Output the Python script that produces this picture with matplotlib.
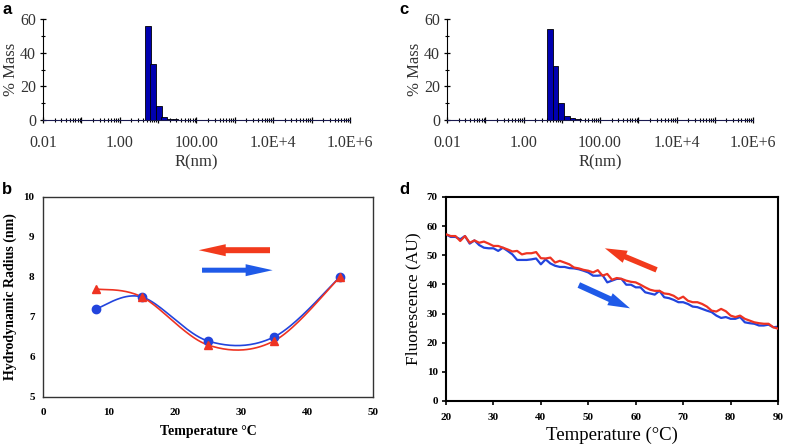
import numpy as np
import matplotlib
matplotlib.use("Agg")
import matplotlib.pyplot as plt
from matplotlib.patches import FancyArrowPatch
from matplotlib.ticker import FixedLocator, NullFormatter

SERIF = "Liberation Serif"

# panel a / c : size distribution (% mass vs radius)
radius_a = [5.37, 7.5, 10.5, 14.6, 20.4, 28.5]
mass_a = [56, 33, 8.5, 1.5, 0.8, 0.5]
radius_c = [4.93, 6.9, 9.7, 13.6, 19.0, 26.6]
mass_c = [54, 32, 10.3, 2.4, 1.0, 0.5]
r_tick_labels = ["0.01", "", "1.00", "", "100.00", "", "1.0E+4", "", "1.0E+6"]

# panel b : hydrodynamic radius vs temperature
temp_b = [8, 15, 25, 35, 45]
rh_heat = [7.2, 7.5, 6.4, 6.5, 8.0]
rh_cool = [7.7, 7.5, 6.3, 6.4, 8.0]

# panel d : fluorescence vs temperature
temp_d = list(range(20, 91))
fl_heat = [57.2, 56.3, 56.3, 55.5, 56.6, 54.0, 55.1, 53.5, 52.6, 52.4,
           52.4, 51.5, 52.6, 51.5, 50.3, 48.4, 48.4, 48.4, 48.6, 48.9,
           46.9, 48.6, 47.2, 46.4, 46.0, 46.0, 45.6, 45.5, 45.2, 44.7,
           44.1, 43.0, 43.0, 43.2, 40.7, 41.3, 41.9, 41.9, 39.9, 39.9,
           39.0, 39.0, 37.3, 36.9, 36.5, 37.8, 35.6, 35.3, 34.7, 33.9,
           33.9, 33.3, 32.4, 32.2, 31.6, 31.0, 30.5, 29.3, 28.5, 28.8,
           28.2, 28.2, 28.8, 27.0, 26.7, 26.5, 25.9, 25.9, 26.2, 25.3,
           25.5]
fl_cool = [57.2, 56.6, 56.6, 54.9, 56.6, 54.3, 55.1, 54.3, 54.7, 54.0,
           53.2, 53.2, 52.6, 52.0, 51.3, 51.5, 50.3, 50.7, 50.7, 51.1,
           49.0, 48.9, 49.2, 47.5, 48.1, 47.5, 46.9, 45.8, 45.5, 45.0,
           44.7, 44.1, 44.9, 43.0, 43.6, 41.6, 42.2, 41.9, 41.3, 40.9,
           40.7, 39.9, 39.0, 38.2, 37.8, 37.8, 36.9, 36.7, 36.1, 35.0,
           35.8, 34.4, 33.9, 33.9, 33.3, 32.4, 31.0, 30.7, 31.6, 30.8,
           29.3, 28.8, 29.3, 28.2, 27.6, 27.0, 26.7, 26.5, 26.5, 25.3,
           24.8]

RED = "#ee3322"
BLUE = "#2244dd"


def smooth(xs, ys, n=40):
    # Catmull-Rom style smoothing like a spreadsheet "smoothed line"
    pts = np.column_stack([xs, ys]).astype(float)
    out = []
    for i in range(len(pts) - 1):
        p0 = pts[i - 1] if i > 0 else pts[i]
        p1, p2 = pts[i], pts[i + 1]
        p3 = pts[i + 2] if i + 2 < len(pts) else pts[i + 1]
        c1 = p1 + (p2 - p0) / 6.0
        c2 = p2 - (p3 - p1) / 6.0
        t = np.linspace(0, 1, n)[:, None]
        seg = ((1 - t) ** 3) * p1 + 3 * ((1 - t) ** 2) * t * c1 + 3 * (1 - t) * t ** 2 * c2 + t ** 3 * p2
        out.append(seg)
    out = np.vstack(out)
    return out[:, 0], out[:, 1]


def arrow(ax, tail, head, color, hl, hw, tw):
    p = FancyArrowPatch(tail, head, shrinkA=0, shrinkB=0, mutation_scale=7.2,
                        arrowstyle=f"simple,head_length={hl},head_width={hw},tail_width={tw}",
                        color=color, lw=0)
    ax.add_patch(p)


def size_panel(ax, radius, mass):
    ratio = 10 ** 0.15
    r = np.array(radius)
    ax.bar(r / np.sqrt(ratio), mass, width=r * np.sqrt(ratio) - r / np.sqrt(ratio),
           align="edge", color="#0000b0", edgecolor="black", linewidth=0.6, zorder=3)
    ax.set_xscale("log")
    ax.set_xlim(0.01, 1e6)
    ax.set_ylim(0, 60)
    ax.spines["top"].set_visible(False)
    ax.spines["right"].set_visible(False)
    ax.spines["bottom"].set_color("#1a1a50")
    ax.xaxis.set_major_locator(FixedLocator([10.0 ** k for k in range(-2, 7)]))
    ax.set_xticklabels(r_tick_labels)
    minors = [m * 10.0 ** k for k in range(-2, 6) for m in range(2, 10)]
    ax.xaxis.set_minor_locator(FixedLocator(minors))
    ax.xaxis.set_minor_formatter(NullFormatter())
    ax.set_yticks([0, 20, 40, 60])
    ax.set_yticks([10, 30, 50], minor=True)
    ax.tick_params(axis="both", which="major", direction="inout", length=5, width=0.9,
                   labelsize=11.5, labelcolor="#333333")
    ax.tick_params(axis="x", which="major", pad=8)
    ax.tick_params(axis="y", which="major", pad=2.5)
    ax.tick_params(axis="both", which="minor", direction="inout", length=3, width=0.8)
    for lab in ax.get_xticklabels() + ax.get_yticklabels():
        lab.set_family(SERIF)
    ax.set_xlabel("R(nm)", family=SERIF, fontsize=12, color="#333333", labelpad=3)
    ax.set_ylabel("% Mass", family=SERIF, fontsize=12, color="#333333", labelpad=0.5)


fig = plt.figure(figsize=(7.87, 4.46), dpi=100)

ax_a = fig.add_axes([0.0546, 0.7309, 0.390, 0.2265])
size_panel(ax_a, radius_a, mass_a)
ax_c = fig.add_axes([0.568, 0.7309, 0.3888, 0.2265])
size_panel(ax_c, radius_c, mass_c)

# panel b
ax_b = fig.add_axes([0.0546, 0.1099, 0.4193, 0.4484])
xs, ys = smooth(temp_b, rh_heat)
ax_b.plot(xs, ys, color=BLUE, lw=1.2, zorder=2)
xs, ys = smooth(temp_b, rh_cool)
ax_b.plot(xs, ys, color=RED, lw=1.2, zorder=2)
ax_b.plot(temp_b, rh_heat, "o", color=BLUE, ms=6, zorder=3)
ax_b.plot(temp_b, rh_cool, "^", color=RED, ms=6, zorder=4)
ax_b.set_xlim(0, 50)
ax_b.set_ylim(5, 10)
ax_b.set_xticks(range(0, 51, 10))
ax_b.set_yticks(range(5, 11))
ax_b.tick_params(length=0, labelsize=8)
ax_b.tick_params(axis="x", pad=8)
ax_b.tick_params(axis="y", pad=6)
for lab in ax_b.get_xticklabels() + ax_b.get_yticklabels():
    lab.set_family(SERIF)
    lab.set_fontweight("bold")
for s in ax_b.spines.values():
    s.set_linewidth(1.0)
    s.set_color("#333333")
ax_b.set_xlabel("Temperature \u00b0C", family=SERIF, fontweight="bold", fontsize=10, labelpad=6)
ax_b.set_ylabel("Hydrodynamic Radius (nm)", family=SERIF, fontweight="bold", fontsize=10, labelpad=5)
arrow(ax_b, (34.4, 8.67), (23.6, 8.67), "#f23a1c", 2.7, 1.2, 0.6)
arrow(ax_b, (24.1, 8.17), (34.8, 8.17), "#1f5ae8", 2.7, 1.2, 0.5)

# panel d
ax_d = fig.add_axes([0.5667, 0.1009, 0.4219, 0.4574])
ax_d.plot(temp_d, fl_heat, color=BLUE, lw=1.6, zorder=2)
ax_d.plot(temp_d, fl_cool, color=RED, lw=1.6, zorder=3)
ax_d.set_xlim(20, 90)
ax_d.set_ylim(0, 70)
ax_d.set_xticks(range(20, 91, 10))
ax_d.set_yticks(range(0, 71, 10))
ax_d.tick_params(direction="out", length=3, width=1.2, labelsize=8, pad=3)
ax_d.tick_params(axis="x", pad=6)
for lab in ax_d.get_xticklabels() + ax_d.get_yticklabels():
    lab.set_family(SERIF)
    lab.set_fontweight("bold")
for s in ax_d.spines.values():
    s.set_linewidth(1.5)
ax_d.set_xlabel("Temperature (\u00b0C)", family=SERIF, fontsize=13.5, labelpad=3)
ax_d.set_ylabel("Fluorescence (AU)", family=SERIF, fontsize=12.5, labelpad=4)
arrow(ax_d, (64.4, 45.0), (53.5, 52.4), "#f23a1c", 2.2, 1.3, 0.55)
arrow(ax_d, (48.0, 39.8), (58.8, 31.8), "#1f5ae8", 2.2, 1.3, 0.6)

for label, x, y in [("a", 0.003, 0.995), ("b", 0.003, 0.592), ("c", 0.508, 0.995), ("d", 0.508, 0.592)]:
    fig.text(x, y, label, fontsize=12, fontweight="bold", family="Liberation Sans", va="top", ha="left")

fig.savefig("out.png", dpi=100)
